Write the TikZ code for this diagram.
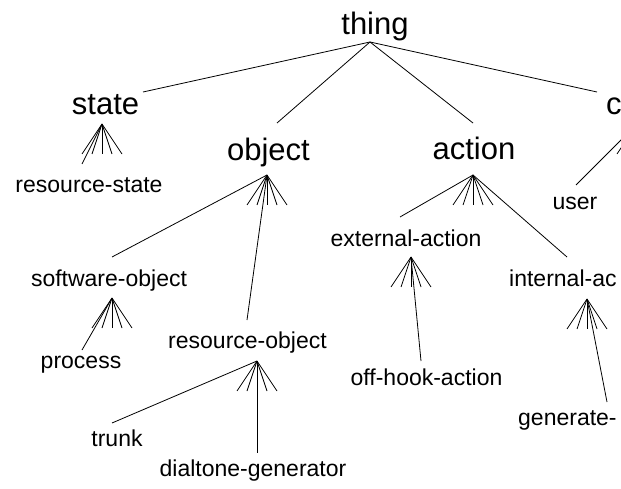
\documentclass[tikz,border=0pt]{standalone}
\usepackage{fontspec}
\setmainfont{Liberation Sans}
\begin{document}
\begin{tikzpicture}[x=1pt,y=-1pt]
\tikzset{
  big/.style={font=\fontsize{31}{31}\selectfont, inner sep=0pt},
  small/.style={font=\fontsize{23}{23}\selectfont, inner sep=0pt},
  edge/.style={line width=0.8pt, black},
}
\path[use as bounding box] (0,0) rectangle (621,489);
\clip (0,0) rectangle (621,489);
% labels
\node[big, anchor=base] (thing) at (375,35) {thing};
\node[big, anchor=base] (state) at (105.5,115) {state};
\node[big, anchor=base] (object) at (268.5,160.5) {object};
\node[big, anchor=base] (action) at (474,160) {action};
\node[big, anchor=base west] (cnode) at (606,115) {c};
\node[small, anchor=base] (resstate) at (89,193) {resource-state};
\node[small, anchor=base] (user) at (575,210) {user};
\node[small, anchor=base] (swobj) at (109,286.7) {software-object};
\node[small, anchor=base] (extact) at (406,246.7) {external-action};
\node[small, anchor=base west] (intact) at (509,286.7) {internal-ac};
\node[small, anchor=base] (process) at (81,368) {process};
\node[small, anchor=base] (resobj) at (247.5,348.3) {resource-object};
\node[small, anchor=base] (offhook) at (426.5,385.7) {off-hook-action};
\node[small, anchor=base] (trunk) at (117,446.7) {trunk};
\node[small, anchor=base] (dial) at (253,476.7) {dialtone-generator};
\node[small, anchor=base west] (gen) at (518,425) {generate-};
% attachment points
\coordinate (thing-b) at (370,42);
\coordinate (state-t) at (143,92);    \coordinate (state-b) at (102,124);
\coordinate (object-t) at (277,123);  \coordinate (object-b) at (267,175);
\coordinate (action-t) at (473,123);  \coordinate (action-b) at (473,175);
\coordinate (cnode-t) at (597,92);    \coordinate (cnode-b) at (637,124);
\coordinate (resstate-t) at (82,164);
\coordinate (user-t) at (576,185);
\coordinate (swobj-t) at (112,257);   \coordinate (swobj-b) at (112,298);
\coordinate (resobj-t) at (247,320);  \coordinate (resobj-b) at (257,361);
\coordinate (extact-t) at (400,217);  \coordinate (extact-b) at (411,257);
\coordinate (intact-t) at (567,257);  \coordinate (intact-b) at (587,299);
\coordinate (process-t) at (82,350);
\coordinate (trunk-t) at (112,423);
\coordinate (dial-t) at (257,453);
\coordinate (offhook-t) at (421,361);
\coordinate (gen-t) at (607,402);
% connectors
\draw[edge] (thing-b) -- (state-t);
\draw[edge] (thing-b) -- (object-t);
\draw[edge] (thing-b) -- (action-t);
\draw[edge] (thing-b) -- (cnode-t);
\draw[edge] (state-b) -- (resstate-t);
\draw[edge] (cnode-b) -- (user-t);
\draw[edge] (object-b) -- (swobj-t);
\draw[edge] (object-b) -- (resobj-t);
\draw[edge] (action-b) -- (extact-t);
\draw[edge] (action-b) -- (intact-t);
\draw[edge] (swobj-b) -- (process-t);
\draw[edge] (resobj-b) -- (trunk-t);
\draw[edge] (resobj-b) -- (dial-t);
\draw[edge] (extact-b) -- (offhook-t);
\draw[edge] (intact-b) -- (gen-t);
% fans of elided children
\foreach \p in {state-b,object-b,action-b,cnode-b,swobj-b,resobj-b,extact-b,intact-b}
  \foreach \d in {-20,-10,0,10,20}
    \draw[edge] (\p) -- ++(\d,30);
\end{tikzpicture}
\end{document}
